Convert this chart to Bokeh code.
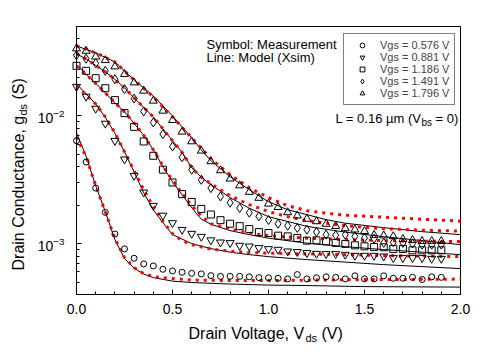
import numpy as np
from bokeh.plotting import figure
from bokeh.models import (FixedTicker, PrintfTickFormatter, Label, Legend, LegendItem, BoxAnnotation, Range1d)
from bokeh.embed import file_html
from bokeh.resources import INLINE

# ---------------- data ----------------
vds_meas = [0.00, 0.05, 0.10, 0.15, 0.20, 0.25, 0.30, 0.35, 0.40, 0.45,
            0.50, 0.55, 0.60, 0.65, 0.70, 0.75, 0.80, 0.85, 0.90, 0.95,
            1.00, 1.05, 1.10, 1.15, 1.20, 1.25, 1.30, 1.35, 1.40, 1.45,
            1.50, 1.55, 1.60, 1.65, 1.70, 1.75, 1.80, 1.85, 1.90]

gds_meas_0576 = [6.38e-3, 4.35e-3, 2.72e-3, 1.756e-3, 1.19e-3, 9.09e-4, 7.68e-4, 6.94e-4, 6.69e-4, 6.30e-4,
                 6.12e-4, 5.97e-4, 5.86e-4, 5.80e-4, 5.62e-4, 5.55e-4, 5.55e-4, 5.55e-4, 5.50e-4, 5.42e-4,
                 5.40e-4, 5.36e-4, 5.30e-4, 5.73e-4, 5.30e-4, 5.40e-4, 5.50e-4, 5.45e-4, 5.30e-4, 5.60e-4,
                 5.30e-4, 5.30e-4, 5.60e-4, 5.36e-4, 5.36e-4, 5.45e-4, 5.24e-4, 5.50e-4, 5.45e-4]
gds_meas_0881 = [1.69e-2, 1.416e-2, 1.14e-2, 8.71e-3, 6.38e-3, 4.57e-3, 3.40e-3, 2.52e-3, 1.98e-3, 1.66e-3,
                 1.45e-3, 1.285e-3, 1.197e-3, 1.134e-3, 1.065e-3, 1.024e-3, 1.013e-3, 9.65e-4, 9.53e-4, 9.26e-4,
                 9.09e-4, 8.98e-4, 8.71e-4, 8.62e-4, 8.46e-4, 8.35e-4, 8.31e-4, 8.31e-4, 8.20e-4, 8.06e-4,
                 8.06e-4, 8.06e-4, 7.96e-4, 7.73e-4, 7.73e-4, 7.73e-4, 7.73e-4, 7.63e-4, 7.63e-4]
gds_meas_1186 = [2.46e-2, 2.25e-2, 1.97e-2, 1.645e-2, 1.327e-2, 1.05e-2, 8.2e-3, 6.3e-3, 4.87e-3, 3.79e-3,
                 3.01e-3, 2.44e-3, 2.12e-3, 1.87e-3, 1.69e-3, 1.526e-3, 1.432e-3, 1.37e-3, 1.30e-3, 1.23e-3,
                 1.212e-3, 1.155e-3, 1.14e-3, 1.108e-3, 1.055e-3, 1.061e-3, 1.042e-3, 1.013e-3, 9.95e-4, 9.70e-4,
                 9.53e-4, 9.42e-4, 9.36e-4, 9.09e-4, 9.09e-4, 8.87e-4, 8.87e-4, 8.87e-4, 8.87e-4]
gds_meas_1491 = [2.98e-2, 2.80e-2, 2.58e-2, 2.25e-2, 1.935e-2, 1.617e-2, 1.365e-2, 1.081e-2, 8.87e-3, 7.19e-3,
                 5.75e-3, 4.74e-3, 3.79e-3, 3.16e-3, 2.72e-3, 2.34e-3, 2.09e-3, 1.90e-3, 1.747e-3, 1.634e-3,
                 1.531e-3, 1.432e-3, 1.382e-3, 1.326e-3, 1.286e-3, 1.234e-3, 1.176e-3, 1.165e-3, 1.176e-3, 1.14e-3,
                 1.108e-3, 1.094e-3, 1.013e-3, 1.024e-3, 1.013e-3, 1.0e-3, 9.82e-4, 9.82e-4, 9.82e-4]
gds_meas_1796 = [3.36e-2, 3.22e-2, 2.90e-2, 2.72e-2, 2.43e-2, 2.12e-2, 1.82e-2, 1.567e-2, 1.31e-2, 1.094e-2,
                 9.25e-3, 7.5e-3, 6.3e-3, 5.33e-3, 4.4e-3, 3.74e-3, 3.22e-3, 2.85e-3, 2.535e-3, 2.275e-3,
                 2.05e-3, 1.928e-3, 1.756e-3, 1.655e-3, 1.56e-3, 1.493e-3, 1.425e-3, 1.37e-3, 1.316e-3, 1.286e-3,
                 1.252e-3, 1.165e-3, 1.155e-3, 1.14e-3, 1.084e-3, 1.065e-3, 1.046e-3, 1.046e-3, 1.046e-3]

# Xsim model (black solid lines)
vds_xsim_0576 = [0, 0.05, 0.1, 0.15, 0.2, 0.25, 0.3, 0.35, 0.4, 0.5, 0.6, 0.8, 1.0, 1.2, 1.5, 2.0]
gds_xsim_0576 = [7.36e-3, 4.83e-3, 2.84e-3, 1.78e-3, 1.075e-3, 7.64e-4, 6.44e-4, 5.78e-4, 5.42e-4, 5.09e-4,
                 4.96e-4, 4.83e-4, 4.74e-4, 4.70e-4, 4.61e-4, 4.57e-4]
vds_xsim_0881 = [0, 0.05, 0.1, 0.15, 0.2, 0.25, 0.3, 0.35, 0.4, 0.45, 0.5, 0.6, 0.7, 0.8, 0.9, 1.0,
                 1.2, 1.4, 1.6, 1.8, 2.0]
gds_xsim_0881 = [1.78e-2, 1.485e-2, 1.24e-2, 9.73e-3, 7.3e-3, 5.23e-3, 3.65e-3, 2.50e-3, 1.84e-3, 1.46e-3,
                 1.176e-3, 1.0e-3, 9.14e-4, 8.58e-4, 8.20e-4, 7.91e-4, 7.50e-4, 7.17e-4, 6.85e-4, 6.61e-4, 6.38e-4]
vds_xsim_1186 = [0, 0.05, 0.1, 0.15, 0.2, 0.25, 0.3, 0.35, 0.4, 0.45, 0.5, 0.55, 0.6, 0.65, 0.7, 0.8,
                 0.9, 1.0, 1.2, 1.4, 1.6, 1.8, 2.0]
gds_xsim_1186 = [2.52e-2, 2.11e-2, 1.795e-2, 1.513e-2, 1.264e-2, 1.074e-2, 8.74e-3, 7.04e-3, 5.42e-3, 4.0e-3,
                 3.05e-3, 2.41e-3, 1.91e-3, 1.553e-3, 1.42e-3, 1.264e-3, 1.176e-3, 1.104e-3, 1.009e-3, 9.47e-4,
                 8.98e-4, 8.58e-4, 8.20e-4]
vds_xsim_1491 = [0, 0.05, 0.1, 0.15, 0.2, 0.25, 0.3, 0.35, 0.4, 0.45, 0.5, 0.55, 0.6, 0.65, 0.7, 0.8,
                 0.9, 1.0, 1.2, 1.4, 1.6, 1.8, 2.0]
gds_xsim_1491 = [3.05e-2, 2.79e-2, 2.48e-2, 2.21e-2, 1.928e-2, 1.655e-2, 1.382e-2, 1.165e-2, 9.82e-3, 7.91e-3,
                 6.38e-3, 5.19e-3, 3.92e-3, 3.31e-3, 2.89e-3, 2.29e-3, 1.893e-3, 1.625e-3, 1.365e-3, 1.23e-3,
                 1.134e-3, 1.055e-3, 9.82e-4]
vds_xsim_1796 = [0, 0.1, 0.2, 0.3, 0.4, 0.5, 0.6, 0.65, 0.7, 0.8, 0.9, 1.0, 1.1, 1.2, 1.3, 1.4, 1.6, 1.8, 2.0]
gds_xsim_1796 = [3.52e-2, 3.11e-2, 2.64e-2, 1.91e-2, 1.432e-2, 1.0e-2, 6.73e-3, 5.42e-3, 4.45e-3, 3.34e-3,
                 2.64e-3, 2.13e-3, 1.84e-3, 1.686e-3, 1.54e-3, 1.445e-3, 1.334e-3, 1.241e-3, 1.176e-3]

# second model (red dotted lines)
vds_red_0576 = [0, 0.05, 0.1, 0.15, 0.2, 0.25, 0.3, 0.35, 0.4, 0.5, 0.6, 0.8, 1.0, 1.5, 2.0]
gds_red_0576 = [6.85e-3, 4.78e-3, 2.84e-3, 1.78e-3, 1.094e-3, 7.78e-4, 6.49e-4, 5.83e-4, 5.52e-4, 5.33e-4,
                5.19e-4, 5.14e-4, 5.14e-4, 5.23e-4, 5.28e-4]
vds_red_0881 = [0, 0.05, 0.1, 0.15, 0.2, 0.25, 0.3, 0.35, 0.4, 0.45, 0.5, 0.55, 0.6, 0.7, 0.8, 0.9,
                1.0, 1.2, 1.4, 1.6, 1.8, 2.0]
gds_red_0881 = [1.715e-2, 1.459e-2, 1.24e-2, 9.82e-3, 7.36e-3, 5.23e-3, 3.72e-3, 2.64e-3, 1.945e-3, 1.485e-3,
                1.197e-3, 1.055e-3, 9.82e-4, 9.06e-4, 8.74e-4, 8.51e-4, 8.43e-4, 8.31e-4, 8.20e-4, 8.06e-4,
                7.99e-4, 7.91e-4]
vds_red_1186 = [0, 0.05, 0.1, 0.15, 0.2, 0.25, 0.3, 0.35, 0.4, 0.45, 0.5, 0.55, 0.6, 0.65, 0.7, 0.8,
                0.9, 1.0, 1.2, 1.4, 1.6, 1.8, 2.0]
gds_red_1186 = [2.46e-2, 2.11e-2, 1.795e-2, 1.513e-2, 1.264e-2, 1.074e-2, 8.74e-3, 7.04e-3, 5.42e-3, 4.06e-3,
                3.11e-3, 2.46e-3, 1.98e-3, 1.655e-3, 1.432e-3, 1.30e-3, 1.208e-3, 1.155e-3, 1.104e-3, 1.075e-3,
                1.055e-3, 1.046e-3, 1.037e-3]
vds_red_1491 = [0, 0.05, 0.1, 0.15, 0.2, 0.25, 0.3, 0.35, 0.4, 0.45, 0.5, 0.55, 0.6, 0.65, 0.7, 0.8,
                0.9, 1.0, 1.1, 1.2, 1.4, 1.6, 1.8, 2.0]
gds_red_1491 = [3.05e-2, 2.79e-2, 2.48e-2, 2.21e-2, 1.928e-2, 1.655e-2, 1.382e-2, 1.165e-2, 9.82e-3, 7.91e-3,
                6.38e-3, 5.19e-3, 3.92e-3, 3.31e-3, 2.94e-3, 2.37e-3, 2.02e-3, 1.78e-3, 1.625e-3, 1.513e-3,
                1.382e-3, 1.31e-3, 1.275e-3, 1.252e-3]
vds_red_1796 = [0, 0.1, 0.2, 0.3, 0.4, 0.5, 0.6, 0.7, 0.8, 0.9, 1.0, 1.1, 1.2, 1.3, 1.4, 1.6, 1.8, 2.0]
gds_red_1796 = [3.52e-2, 3.11e-2, 2.64e-2, 1.91e-2, 1.407e-2, 9.82e-3, 6.73e-3, 4.61e-3, 3.46e-3, 2.74e-3,
                2.29e-3, 1.98e-3, 1.81e-3, 1.73e-3, 1.67e-3, 1.61e-3, 1.553e-3, 1.50e-3]

vgs_labels = ["Vgs = 0.576 V", "Vgs = 0.881 V", "Vgs = 1.186 V", "Vgs = 1.491 V", "Vgs = 1.796 V"]
x_ticks = [0.0, 0.5, 1.0, 1.5, 2.0]
x_minor = [0.1, 0.2, 0.3, 0.4, 0.6, 0.7, 0.8, 0.9, 1.1, 1.2, 1.3, 1.4, 1.6, 1.7, 1.8, 1.9]
y_ticks = [1e-3, 1e-2]
y_minor = [4e-4, 5e-4, 6e-4, 7e-4, 8e-4, 9e-4, 2e-3, 3e-3, 4e-3, 5e-3, 6e-3, 7e-3, 8e-3, 9e-3,
           2e-2, 3e-2, 4e-2, 5e-2]
x_lo, x_hi = 0.0, 2.0
y_lo, y_hi = 4e-4, 5e-2

FONT = "Liberation Sans"
W, H = 488, 360
# plot box in canvas pixels
BL, BR, BT, BB = 76, 460, 26, 294
ppx = (BR - BL) / (x_hi - x_lo)
ppd = (BB - BT) / (np.log10(y_hi) - np.log10(y_lo))
xr = Range1d(x_lo - BL / ppx, x_hi + (W - BR) / ppx)
yr = Range1d(y_lo / 10 ** ((H - BB) / ppd), y_hi * 10 ** (BT / ppd))

p = figure(width=W, height=H, x_range=xr, y_range=yr, y_axis_type="log",
           output_backend="svg", toolbar_location=None,
           min_border_left=0, min_border_right=0, min_border_top=0, min_border_bottom=0)
p.background_fill_color = "white"
p.border_fill_color = "white"
p.grid.visible = False
p.outline_line_color = None

p.xaxis.fixed_location = y_lo
p.yaxis.fixed_location = x_lo
p.xaxis.bounds = (x_lo, x_hi)
p.yaxis.bounds = (y_lo, y_hi)

for ax in (p.xaxis[0], p.yaxis[0]):
    ax.axis_line_color = "black"
    ax.major_tick_line_color = "black"
    ax.minor_tick_line_color = "black"
    ax.major_tick_in = 5
    ax.major_tick_out = 0
    ax.minor_tick_in = 3
    ax.minor_tick_out = 0
    ax.major_label_text_font = FONT
    ax.major_label_text_font_size = "14px"
    ax.major_label_text_color = "black"

p.xaxis.ticker = FixedTicker(ticks=x_ticks, minor_ticks=x_minor)
p.xaxis.formatter = PrintfTickFormatter(format="%.1f")
p.xaxis.major_label_standoff = 9
p.yaxis.ticker = FixedTicker(ticks=y_ticks, minor_ticks=y_minor)
p.yaxis.major_label_standoff = 12

# plot box
p.add_layout(BoxAnnotation(left=x_lo, right=x_hi, bottom=y_lo, top=y_hi, fill_color=None,
                           line_color="black", line_width=1, line_alpha=1, level="underlay"))

# model lines
xsim = [(vds_xsim_0576, gds_xsim_0576), (vds_xsim_0881, gds_xsim_0881), (vds_xsim_1186, gds_xsim_1186),
        (vds_xsim_1491, gds_xsim_1491), (vds_xsim_1796, gds_xsim_1796)]
reds = [(vds_red_0576, gds_red_0576), (vds_red_0881, gds_red_0881), (vds_red_1186, gds_red_1186),
        (vds_red_1491, gds_red_1491), (vds_red_1796, gds_red_1796)]
for xs, ys in xsim:
    p.line(xs, ys, line_color="black", line_width=1)
for xs, ys in reds:
    p.line(xs, ys, line_color="#ff0000", line_width=3, line_dash="3 5")

meas = [gds_meas_0576, gds_meas_0881, gds_meas_1186, gds_meas_1491, gds_meas_1796]
markers = ["circle", "inverted_triangle", "square", "diamond", "triangle"]
sizes = [6, 8, 7, 9, 8]
rends = []
for ys, mk, sz in zip(meas, markers, sizes):
    r = p.scatter(vds_meas, ys, marker=mk, size=sz, fill_color=None, line_color="black", line_width=1)
    rends.append(r)

legend = Legend(items=[LegendItem(label=l, renderers=[r]) for l, r in zip(vgs_labels, rends)],
                location=(343, H - 105), orientation="vertical")
legend.label_text_font = FONT
legend.label_text_font_size = "11px"
legend.label_height = 12
legend.glyph_height = 12
legend.glyph_width = 26
legend.label_standoff = 5
legend.spacing = 0
legend.padding = 5
legend.margin = 0
legend.border_line_color = "black"
legend.border_line_width = 1
legend.background_fill_color = "white"
legend.background_fill_alpha = 1
p.add_layout(legend)

def lab(x, y, text, size, **kw):
    # x, y: canvas pixels from the left and from the top
    p.add_layout(Label(x=x, y=H - y, x_units="screen", y_units="screen", text=text,
                       text_font=FONT, text_font_size=size, text_color="black", **kw))

# annotations inside plot
lab(206, 44, "Symbol: Measurement", "13px", text_baseline="middle")
lab(206, 57, "Line: Model (Xsim)", "13px", text_baseline="middle")
lab(335, 118, "L = 0.16 \u00b5m (V", "13px", text_baseline="middle")
lab(421, 122, "bs", "10px", text_baseline="middle")
lab(435, 118, "= 0)", "13px", text_baseline="middle")

# x axis label
lab(188, 333, "Drain Voltage, V", "16px", text_baseline="middle")
lab(305, 337, "ds", "11px", text_baseline="middle")
lab(321, 333, "(V)", "16px", text_baseline="middle")

# y axis label (rotated)
ang = np.pi / 2
lab(18, 270, "Drain Conductance, g", "16px", text_baseline="middle", angle=ang)
lab(22, 115, "ds", "11px", text_baseline="middle", angle=ang)
lab(18, 99, "(S)", "16px", text_baseline="middle", angle=ang)

open("out.html", "w").write(file_html(p, INLINE))
